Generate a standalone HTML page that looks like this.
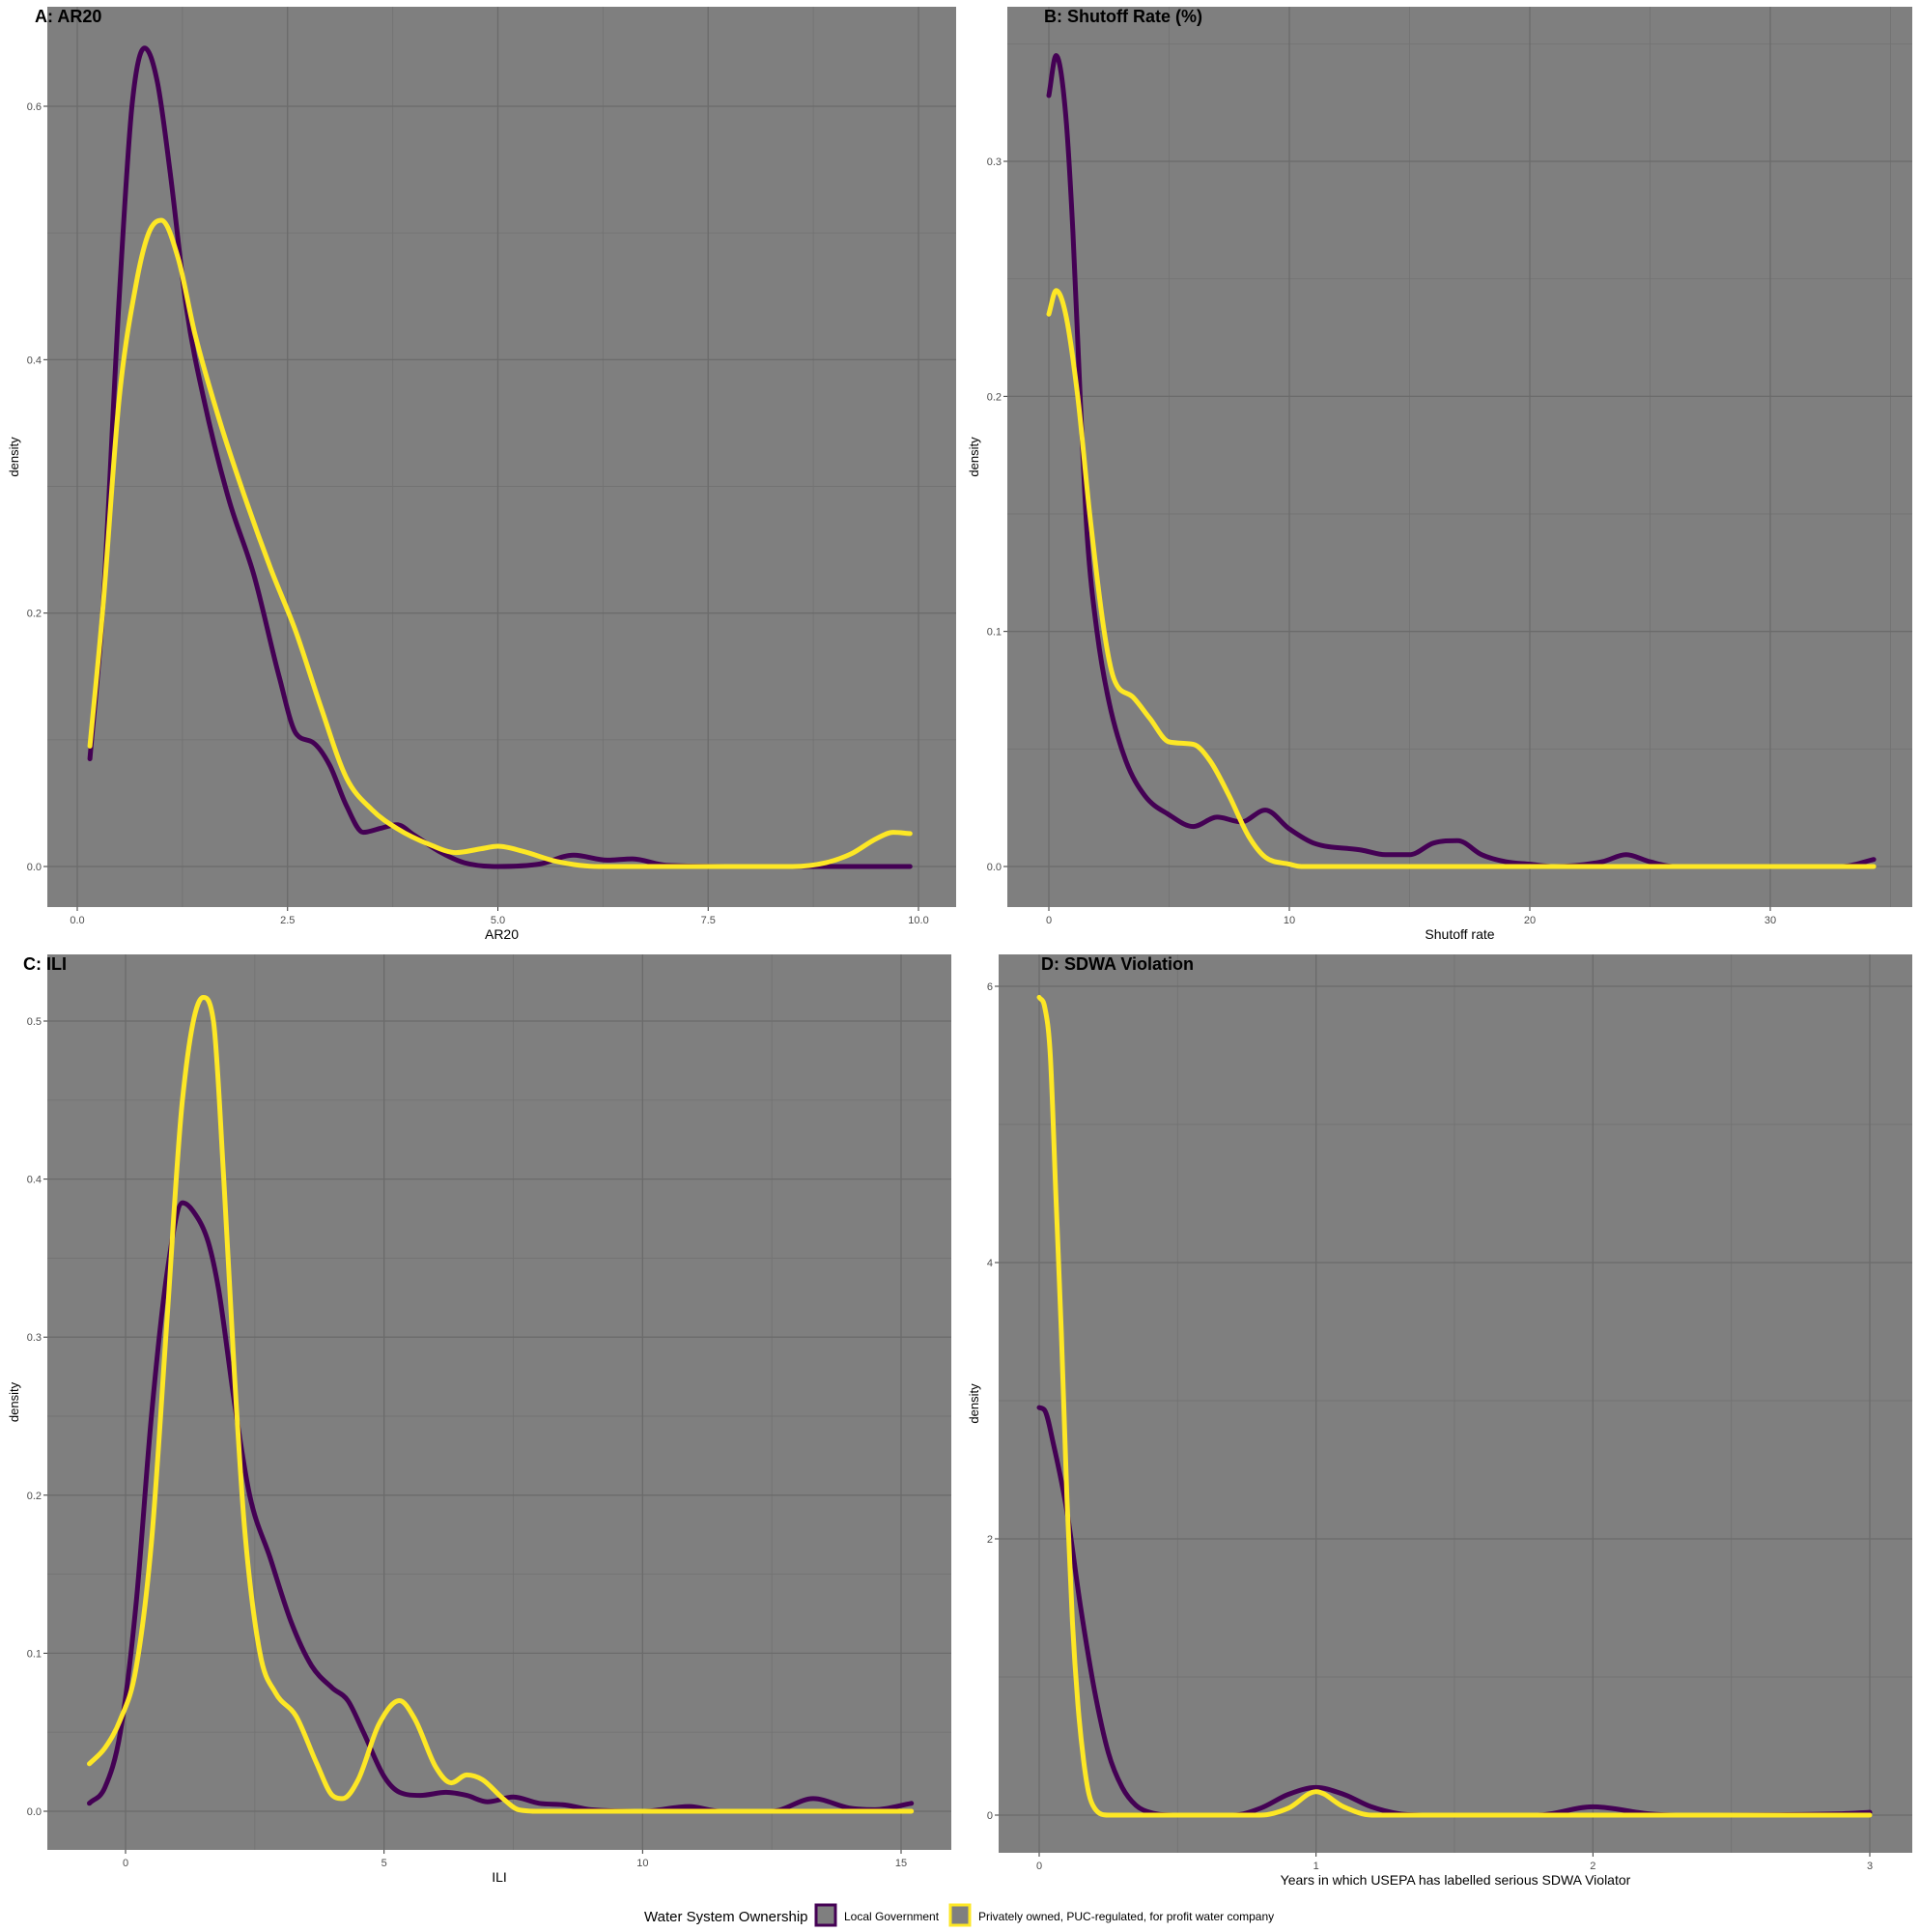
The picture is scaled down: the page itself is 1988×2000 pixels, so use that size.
<!DOCTYPE html>
<html><head><meta charset="utf-8"><style>
html,body{margin:0;padding:0;background:#fff;}
svg{display:block;font-family:"Liberation Sans",Arial,sans-serif;}
</style></head><body>
<svg id="fig" width="1988" height="2000" viewBox="0 0 1988 2000" xmlns="http://www.w3.org/2000/svg">
<g id="legend">
<text x="667" y="1989" font-size="15" fill="#000">Water System Ownership</text>
<rect x="845" y="1972" width="20" height="21" fill="#7f7f7f" stroke="#440154" stroke-width="3"/>
<text x="874" y="1988" font-size="12" fill="#000">Local Government</text>
<rect x="984" y="1972" width="20" height="21" fill="#7f7f7f" stroke="#FDE725" stroke-width="3"/>
<text x="1013" y="1988" font-size="12" fill="#000">Privately owned, PUC-regulated, for profit water company</text>
</g>
</svg>
<script>
// Panel A: AR20
const aX_local=[0.15,0.3,0.5,0.65,0.8,0.95,1.1,1.3,1.5,1.8,2.1,2.4,2.6,2.8,3.0,3.2,3.4,3.6,3.8,4.0,4.3,4.6,5.0,5.5,5.9,6.3,6.6,7.0,8.0,9.9];
const aY_local=[0.085,0.2,0.45,0.6,0.646,0.62,0.55,0.44,0.37,0.29,0.23,0.15,0.105,0.098,0.08,0.048,0.027,0.03,0.033,0.025,0.012,0.003,0,0.002,0.009,0.005,0.006,0.001,0,0];
const aX_priv=[0.15,0.3,0.5,0.7,0.85,1.0,1.2,1.4,1.7,2.0,2.3,2.6,2.9,3.2,3.5,3.8,4.2,4.5,4.8,5.0,5.3,5.7,6.2,8.5,8.9,9.2,9.5,9.7,9.9];
const aY_priv=[0.095,0.2,0.37,0.46,0.5,0.51,0.48,0.42,0.35,0.29,0.235,0.185,0.125,0.07,0.045,0.03,0.017,0.011,0.014,0.016,0.012,0.004,0,0,0.003,0.01,0.022,0.027,0.026];
const aXTicks=["0.0","2.5","5.0","7.5","10.0"];
const aYTicks=["0.0","0.2","0.4","0.6"];
// Panel B: Shutoff rate
const bX_local=[0,0.3,0.7,1.0,1.3,1.6,2.0,2.5,3.2,4,5,6,7,8,9,10,11,13,14,15,16,17,18,19,20,21,23,24,25,26,33,34.3];
const bY_local=[0.328,0.345,0.32,0.27,0.2,0.14,0.1,0.07,0.045,0.03,0.022,0.017,0.021,0.019,0.024,0.016,0.01,0.007,0.005,0.005,0.01,0.011,0.005,0.002,0.001,0,0.002,0.005,0.002,0,0,0.003];
const bX_priv=[0,0.3,0.7,1.2,1.7,2.3,2.7,3.5,4.2,5,6,6.7,7.5,8.3,9,10,10.5,34.3];
const bY_priv=[0.235,0.245,0.235,0.2,0.15,0.1,0.08,0.072,0.063,0.053,0.052,0.045,0.03,0.013,0.004,0.001,0,0];
const bXTicks=["0","10","20","30"];
const bYTicks=["0.0","0.1","0.2","0.3"];
// Panel C: ILI
const cX_local=[-0.7,-0.4,-0.1,0.2,0.5,0.8,1.1,1.3,1.6,1.8,2.1,2.4,2.8,3.2,3.6,4.0,4.3,4.6,5.0,5.3,5.7,6.2,6.6,7.0,7.5,8.0,8.5,9,10,10.9,11.5,12.5,13.3,14,14.5,15.2];
const cY_local=[0.005,0.015,0.05,0.13,0.25,0.34,0.385,0.38,0.36,0.33,0.26,0.2,0.16,0.12,0.092,0.078,0.07,0.05,0.022,0.012,0.01,0.012,0.01,0.006,0.009,0.005,0.004,0.001,0,0.003,0,0,0.008,0.002,0.001,0.005];
const cX_priv=[-0.7,-0.4,-0.1,0.2,0.5,0.8,1.1,1.5,1.7,1.9,2.1,2.3,2.6,2.9,3.3,3.7,4.0,4.2,4.5,4.9,5.3,5.6,6.0,6.3,6.6,6.9,7.3,7.6,8,15.2];
const cY_priv=[0.03,0.04,0.058,0.09,0.17,0.31,0.45,0.515,0.5,0.4,0.28,0.18,0.1,0.075,0.06,0.03,0.01,0.008,0.02,0.055,0.07,0.058,0.028,0.018,0.023,0.02,0.008,0.001,0,0];
const cXTicks=["0","5","10","15"];
const cYTicks=["0.0","0.1","0.2","0.3","0.4","0.5"];
// Panel D: SDWA violation
const dX_local=[0,0.02,0.05,0.1,0.15,0.2,0.25,0.3,0.35,0.4,0.5,0.7,0.8,0.9,1.0,1.1,1.2,1.3,1.4,1.8,2.0,2.2,2.3,2.9,3];
const dY_local=[2.95,2.93,2.7,2.2,1.5,0.9,0.45,0.2,0.07,0.02,0,0,0.05,0.15,0.2,0.15,0.06,0.01,0,0,0.06,0.01,0,0.01,0.02];
const dX_priv=[0,0.02,0.04,0.06,0.08,0.1,0.12,0.14,0.16,0.18,0.2,0.25,0.8,0.9,1.0,1.1,1.2,3];
const dY_priv=[5.92,5.85,5.5,4.5,3.5,2.3,1.4,0.8,0.4,0.15,0.05,0,0,0.05,0.17,0.06,0,0];
const dXTicks=["0","1","2","3"];
const dYTicks=["0","2","4","6"];

const NS="http://www.w3.org/2000/svg";
const svg=document.getElementById('fig');
function mk(tag,attrs,parent){const e=document.createElementNS(NS,tag);for(const k in attrs)e.setAttribute(k,attrs[k]);parent.appendChild(e);return e;}
function scale(d0,d1,p0,p1){return v=>p0+(v-d0)*(p1-p0)/(d1-d0);}
// monotone cubic (Fritsch-Carlson) in pixel space
function smoothPath(xs,ys,sx,sy){
  const X=xs.map(sx),Y=ys.map(sy),n=X.length;
  const dl=[],m=[];
  for(let i=0;i<n-1;i++)dl.push((Y[i+1]-Y[i])/(X[i+1]-X[i]));
  m[0]=dl[0];m[n-1]=dl[n-2];
  for(let i=1;i<n-1;i++){m[i]=(dl[i-1]*dl[i]<=0)?0:(dl[i-1]+dl[i])/2;}
  for(let i=0;i<n-1;i++){
    if(dl[i]===0){m[i]=0;m[i+1]=0;continue;}
    const a=m[i]/dl[i],b=m[i+1]/dl[i],s=a*a+b*b;
    if(s>9){const t=3/Math.sqrt(s);m[i]=t*a*dl[i];m[i+1]=t*b*dl[i];}
  }
  let d="M"+X[0].toFixed(1)+","+Y[0].toFixed(1);
  for(let i=0;i<n-1;i++){
    const h=(X[i+1]-X[i])/3;
    d+="C"+(X[i]+h).toFixed(1)+","+(Y[i]+m[i]*h).toFixed(1)+" "+(X[i+1]-h).toFixed(1)+","+(Y[i+1]-m[i+1]*h).toFixed(1)+" "+X[i+1].toFixed(1)+","+Y[i+1].toFixed(1);
  }
  return d;
}
function panel(o){
  const g=mk('g',{},svg);
  
  
  const bg=mk('rect',{x:o.L,y:o.T,width:o.R-o.L,height:o.B-o.T,fill:'#7f7f7f'},g);
  
  
  const sx=scale(o.xd[0],o.xd[1],o.xp[0],o.xp[1]);
  const sy=scale(o.yd[0],o.yd[1],o.yp[0],o.yp[1]);
  const xt=o.xTicks.map(Number), yt=o.yTicks.map(Number);
  const xs=xt[1]-xt[0], ys=yt[1]-yt[0];
  for(let v=xt[0]-xs*1.5;v<=xt[xt.length-1]+xs*1.5;v+=xs){const p=sx(v);if(p>o.L&&p<o.R){const l=mk('line',{x1:p,x2:p,y1:o.T,y2:o.B,stroke:'#737373','stroke-width':0.9},g);}}
  for(let v=yt[0]-ys*1.5;v<=yt[yt.length-1]+ys*1.5;v+=ys){const p=sy(v);if(p>o.T&&p<o.B){const l=mk('line',{x1:o.L,x2:o.R,y1:p,y2:p,stroke:'#737373','stroke-width':0.9},g);}}
  o.xTicks.forEach(t=>{const p=sx(Number(t));
    const l=mk('line',{x1:p,x2:p,y1:o.T,y2:o.B,stroke:'#6b6b6b','stroke-width':1.3},g);
    
    
    mk('line',{x1:p,x2:p,y1:o.B,y2:o.B+4,stroke:'#333','stroke-width':1},g);
    const tx=mk('text',{x:p,y:o.B+17,'font-size':11,fill:'#4d4d4d','text-anchor':'middle'},g);tx.textContent=t;
    
    });
  o.yTicks.forEach(t=>{const p=sy(Number(t));
    const l=mk('line',{x1:o.L,x2:o.R,y1:p,y2:p,stroke:'#6b6b6b','stroke-width':1.3},g);
    
    
    mk('line',{x1:o.L-4,x2:o.L,y1:p,y2:p,stroke:'#333','stroke-width':1},g);
    const tx=mk('text',{x:o.L-6,y:p+4,'font-size':11,fill:'#4d4d4d','text-anchor':'end'},g);tx.textContent=t;
    
    });
  [[o.lx,o.ly,'#440154','local-government'],[o.px,o.py,'#FDE725','private-company']].forEach(s=>{
    const p=mk('path',{d:smoothPath(s[0],s[1],sx,sy),fill:'none',stroke:s[2],'stroke-width':5,'stroke-linejoin':'round','stroke-linecap':'round'},g);
    
    
  });
  const ti=mk('text',{x:o.tx,y:o.ty,'font-size':18,'font-weight':'bold',fill:'#000'},g);ti.textContent=o.title;
  
  
  const xa=mk('text',{x:(o.L+o.R)/2,y:o.B+33,'font-size':14,fill:'#000','text-anchor':'middle'},g);xa.textContent=o.xlab;
  
  
  const yc=(o.T+o.B)/2;
  const ya=mk('text',{x:o.yax,y:yc,'font-size':13,fill:'#000','text-anchor':'middle',transform:'rotate(-90 '+o.yax+' '+yc+')'},g);ya.textContent='density';
  
  
}
panel({id:'a',L:49,R:990,T:7,B:939,xd:[0,10],xp:[80,951],yd:[0,0.6],yp:[897,110],xTicks:aXTicks,yTicks:aYTicks,lx:aX_local,ly:aY_local,px:aX_priv,py:aY_priv,title:'A: AR20',tx:36,ty:23,xlab:'AR20',yax:19});
panel({id:'b',L:1043,R:1980,T:7,B:939,xd:[0,30],xp:[1086,1833],yd:[0,0.3],yp:[897,167],xTicks:bXTicks,yTicks:bYTicks,lx:bX_local,ly:bY_local,px:bX_priv,py:bY_priv,title:'B: Shutoff Rate (%)',tx:1081,ty:23,xlab:'Shutoff rate',yax:1013});
panel({id:'c',L:49,R:985,T:988,B:1915,xd:[0,15],xp:[130,933],yd:[0,0.5],yp:[1875,1057],xTicks:cXTicks,yTicks:cYTicks,lx:cX_local,ly:cY_local,px:cX_priv,py:cY_priv,title:'C: ILI',tx:24,ty:1004,xlab:'ILI',yax:19});
panel({id:'d',L:1034,R:1980,T:988,B:1918,xd:[0,3],xp:[1076,1936],yd:[0,6],yp:[1879,1021],xTicks:dXTicks,yTicks:dYTicks,lx:dX_local,ly:dY_local,px:dX_priv,py:dY_priv,title:'D: SDWA Violation',tx:1078,ty:1004,xlab:'Years in which USEPA has labelled serious SDWA Violator',yax:1013});
svg.appendChild(document.getElementById('legend'));
</script>
</body></html>
